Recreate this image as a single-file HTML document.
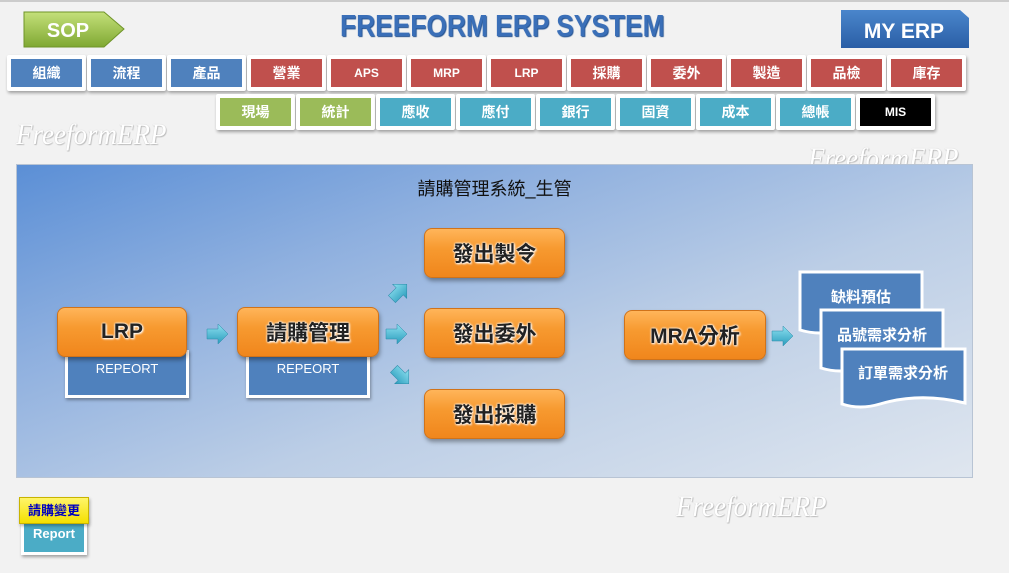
<!DOCTYPE html>
<html><head><meta charset="utf-8"><style>
body{margin:0;width:1009px;height:573px;background:#f2f2f2;position:relative;overflow:hidden;font-family:"Liberation Sans","Noto Sans CJK TC",sans-serif;}
*{box-sizing:border-box;}
.a{position:absolute;}
.btn{position:absolute;height:36px;width:79px;background:#fff;box-shadow:1px 2px 3px rgba(0,0,0,.35);border-radius:2px;}
.btn div{position:absolute;left:4px;top:4px;right:4px;bottom:4px;color:#fff;font-weight:bold;font-size:14px;display:flex;align-items:center;justify-content:center;}
.b{background:#4f81bd}.r{background:#c0504d}.g{background:#9bbb59}.c{background:#4bacc6}.k{background:#000}
.or{position:absolute;border-radius:8px;background:linear-gradient(#ffb55a,#f79a30 40%,#f0861c);border:1px solid #d0731a;box-shadow:1px 3px 4px rgba(0,0,0,.35);display:flex;align-items:center;justify-content:center;font-size:21px;font-weight:bold;color:#222;text-shadow:0 0 2px #fff,0 0 2px #fff,1px 1px 2px #fff;}
.doc{position:absolute;background:#4f81bd;border:3px solid #fff;box-shadow:1px 2px 3px rgba(0,0,0,.35);color:#fff;font-size:14px;text-align:center;}
.wm{position:absolute;color:#fff;font-family:"Liberation Serif",serif;font-style:italic;font-size:30px;text-shadow:0 0 1px #bbb,1px 1px 1px #bbb;transform:scaleX(.9);transform-origin:left top;}
</style></head><body>
<div class="a" style="left:0;top:0;width:1009px;height:2px;background:#ccc"></div>
<svg class="a" style="left:22px;top:10px" width="104" height="40"><defs><linearGradient id="gg" x1="0" y1="0" x2="0" y2="1"><stop offset="0" stop-color="#c4e07a"/><stop offset="1" stop-color="#7fa832"/></linearGradient></defs><polygon points="2,2 82,2 102,19 82,37 2,37" fill="url(#gg)" stroke="#6f9428"/><text x="46" y="27" font-size="20" font-weight="bold" fill="#fff" text-anchor="middle" font-family="Liberation Sans">SOP</text></svg>
<div class="a" style="left:340px;top:8px;font-size:31px;font-weight:bold;color:#3a6fb8;white-space:nowrap;transform:scaleX(.85);transform-origin:left top;text-shadow:1px 1px 1px #1f4f8f">FREEFORM ERP SYSTEM</div>
<svg class="a" style="left:840px;top:9px" width="132" height="42"><defs><linearGradient id="bg" x1="0" y1="0" x2="0" y2="1"><stop offset="0" stop-color="#4a86cc"/><stop offset="1" stop-color="#2a5ea6"/></linearGradient></defs><polygon points="1,1 120,1 129,9 129,39 1,39" fill="url(#bg)"/><text x="64" y="29" font-size="21" font-weight="bold" fill="#fff" text-anchor="middle" font-family="Liberation Sans">MY ERP</text></svg>

<div class="btn" style="left:7px;top:55px"><div class="b">組織</div></div>
<div class="btn" style="left:87px;top:55px"><div class="b">流程</div></div>
<div class="btn" style="left:167px;top:55px"><div class="b">產品</div></div>
<div class="btn" style="left:247px;top:55px"><div class="r">營業</div></div>
<div class="btn" style="left:327px;top:55px"><div class="r" style="font-size:12px">APS</div></div>
<div class="btn" style="left:407px;top:55px"><div class="r" style="font-size:12px">MRP</div></div>
<div class="btn" style="left:487px;top:55px"><div class="r" style="font-size:12px">LRP</div></div>
<div class="btn" style="left:567px;top:55px"><div class="r">採購</div></div>
<div class="btn" style="left:647px;top:55px"><div class="r">委外</div></div>
<div class="btn" style="left:727px;top:55px"><div class="r">製造</div></div>
<div class="btn" style="left:807px;top:55px"><div class="r">品檢</div></div>
<div class="btn" style="left:887px;top:55px"><div class="r">庫存</div></div>

<div class="btn" style="left:216px;top:94px"><div class="g">現場</div></div>
<div class="btn" style="left:296px;top:94px"><div class="g">統計</div></div>
<div class="btn" style="left:376px;top:94px"><div class="c">應收</div></div>
<div class="btn" style="left:456px;top:94px"><div class="c">應付</div></div>
<div class="btn" style="left:536px;top:94px"><div class="c">銀行</div></div>
<div class="btn" style="left:616px;top:94px"><div class="c">固資</div></div>
<div class="btn" style="left:696px;top:94px"><div class="c">成本</div></div>
<div class="btn" style="left:776px;top:94px"><div class="c">總帳</div></div>
<div class="btn" style="left:856px;top:94px"><div class="k" style="font-size:12px">MIS</div></div>

<div class="wm" style="left:16px;top:118px">FreeformERP</div>
<div class="wm" style="left:808px;top:142px">FreeformERP</div>

<div class="a" style="left:16px;top:164px;width:957px;height:314px;border:1px solid #b8c4d4;background:linear-gradient(160deg,#5b8fd6 0%,#8fb0df 30%,#bccee6 60%,#dfe6ef 100%)"></div>
<div class="a" style="left:16px;top:175px;width:957px;text-align:center;font-size:18px;color:#111">請購管理系統_生管</div>

<div class="doc" style="left:65px;top:350px;width:124px;height:48px;padding-top:8px;font-size:13px">REPEORT</div>
<div class="doc" style="left:246px;top:350px;width:124px;height:48px;padding-top:8px;font-size:13px">REPEORT</div>
<div class="or" style="left:57px;top:307px;width:130px;height:50px">LRP</div>
<div class="or" style="left:237px;top:307px;width:142px;height:50px">請購管理</div>
<div class="or" style="left:424px;top:228px;width:141px;height:50px">發出製令</div>
<div class="or" style="left:424px;top:308px;width:141px;height:50px">發出委外</div>
<div class="or" style="left:424px;top:389px;width:141px;height:50px">發出採購</div>
<div class="or" style="left:624px;top:310px;width:142px;height:50px">MRA分析</div>

<svg class="a" style="left:0;top:0" width="1009" height="573">
<defs><linearGradient id="ag" x1="0" y1="0" x2="0" y2="1"><stop offset="0" stop-color="#8ee0f0"/><stop offset="1" stop-color="#2a9cbc"/></linearGradient></defs>
<g fill="url(#ag)" stroke="#2b8aa8" stroke-width=".5">
<polygon points="207,329 218,329 218,324 228,334 218,344 218,339 207,339"/>
<polygon points="386,329 397,329 397,324 407,334 397,344 397,339 386,339"/>
<polygon points="772,331 783,331 783,326 793,336 783,346 783,341 772,341"/>
<g transform="translate(399,292) rotate(-45)"><polygon points="-10,-5 1,-5 1,-10 11,0 1,10 1,5 -10,5"/></g>
<g transform="translate(401,376) rotate(45)"><polygon points="-10,-5 1,-5 1,-10 11,0 1,10 1,5 -10,5"/></g>
</g>
<g font-family="Liberation Sans,Noto Sans CJK TC,sans-serif" font-size="15" font-weight="bold" fill="#fff" text-anchor="middle">
<path d="M800,272 L922,272 L922,330 Q880,318 840,330 Q820,336 800,330 Z" fill="#4f81bd" stroke="#fff" stroke-width="3"/>
<text x="861" y="302">缺料預估</text>
<path d="M821,310 L943,310 L943,368 Q900,356 860,368 Q840,374 821,368 Z" fill="#4f81bd" stroke="#fff" stroke-width="3"/>
<text x="882" y="340">品號需求分析</text>
<path d="M842,349 L965,349 L965,403 Q920,392 880,404 Q860,410 842,404 Z" fill="#4f81bd" stroke="#fff" stroke-width="3"/>
<text x="903" y="378">訂單需求分析</text>
</g>
</svg>

<div class="wm" style="left:676px;top:490px">FreeformERP</div>

<div class="doc" style="left:21px;top:515px;width:66px;height:40px;background:#4bacc6;padding-top:8px;font-size:13px;font-weight:bold">Report</div>
<div class="a" style="left:19px;top:497px;width:70px;height:27px;background:linear-gradient(#fff56a,#f5e000);border:1px solid #c8b400;box-shadow:1px 2px 3px rgba(0,0,0,.3);color:#0000c0;font-weight:bold;font-size:13px;text-align:center;line-height:25px">請購變更</div>
</body></html>
